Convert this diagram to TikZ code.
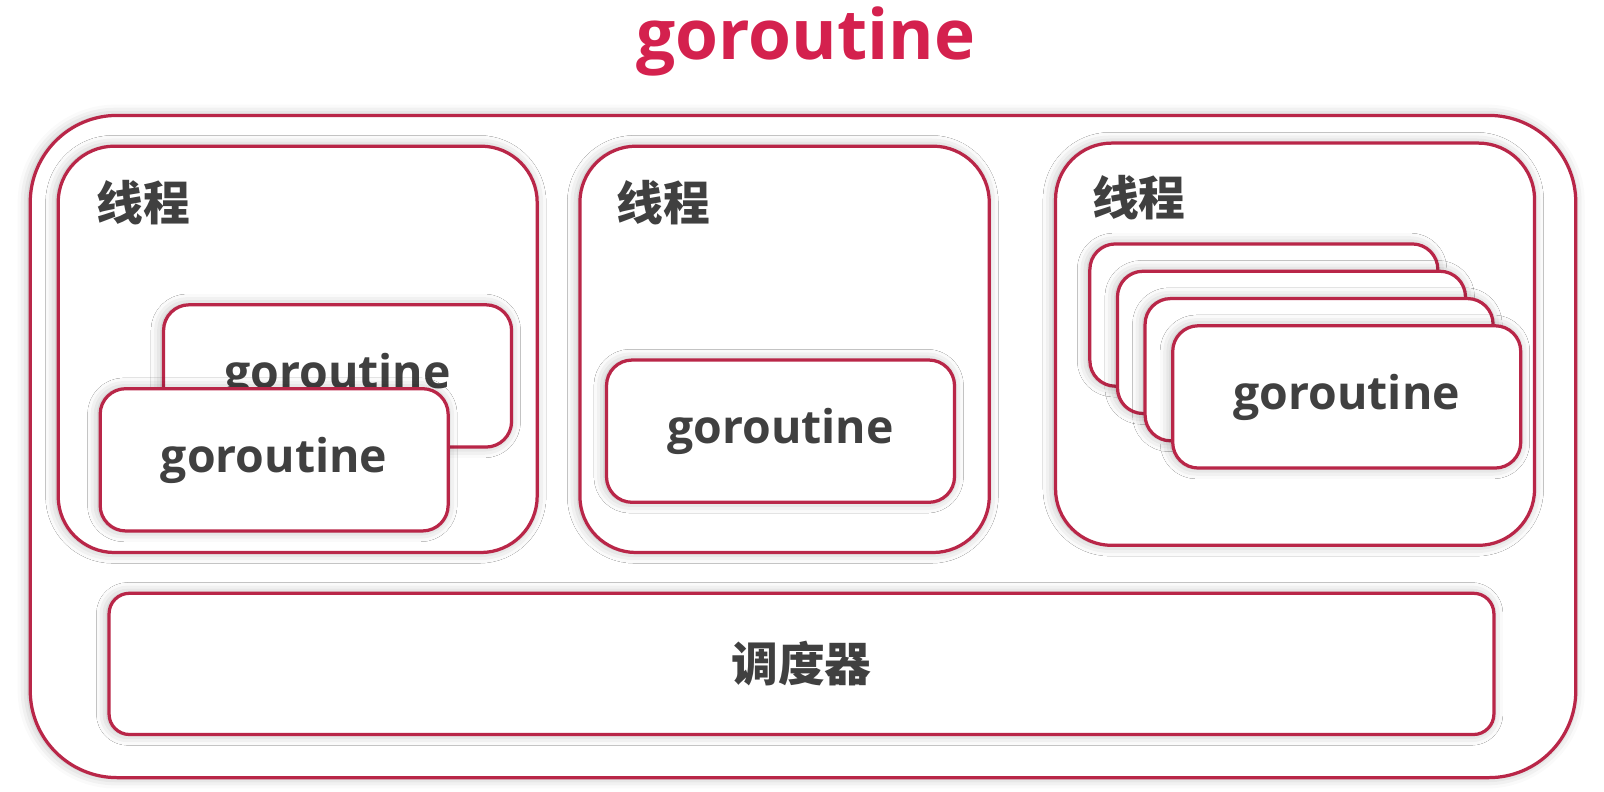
\documentclass[tikz,border=0pt]{standalone}
\usepackage{fontspec}
\setmainfont{Open Sans}
\newfontfamily\cjk{Noto Sans CJK SC}
\usetikzlibrary{shadows.blur}
\definecolor{gored}{RGB}{212,33,78}
\definecolor{boxred}{RGB}{185,38,72}
\definecolor{txtgray}{RGB}{64,64,64}

\begin{document}
\begin{tikzpicture}[x=0.01cm,y=-0.01cm,
    roundframe/.style={draw=boxred,line width=0.9pt,fill=white,
      blur shadow={shadow xshift=-0.5pt,shadow yshift=0pt,shadow blur radius=3pt,shadow opacity=30}},
    threadbox/.style={roundframe,rounded corners=0.55cm,minimum width=#1,minimum height=3.97cm},
    gobox/.style={roundframe,rounded corners=0.25cm,minimum width=3.4cm,minimum height=1.39cm,
      font=\fontsize{12.9}{16}\selectfont\bfseries,text=txtgray,text height=0.95em,text depth=0.25em},
    cjklabel/.style={font=\cjk\fontsize{13}{16}\selectfont\bfseries,text=txtgray,inner sep=0pt}]
        \useasboundingbox (0,0) rectangle (1568,774.2);
        \pgfmathsetmacro\dx{27}
        \pgfmathsetmacro\dy{26.7}
        \node (title) at (788,41) [font=\fontsize{19.3}{24}\selectfont\bfseries,text=gored] {goroutine};
        \node (sys) at (785,436.5) [roundframe,rounded corners=0.85cm,minimum width=15.1cm,minimum height=6.47cm] {};
        % threads
        \node (t1) at (291,341.5) [threadbox=4.68cm] {};
        \node (t2) at (767,341.5) [threadbox=4.0cm] {};
        \node (t3) at (1266,336.5) [threadbox=4.68cm,minimum height=3.93cm] {};
        \node (l1) at (94,198) [cjklabel,anchor=west] {线程};
        \node (l2) at (602,198) [cjklabel,anchor=west] {线程};
        \node (l3) at (1067,193) [cjklabel,anchor=west] {线程};
        % goroutines
        \node (g1b) at (330,367.5) [gobox] {goroutine};
        \node (g1a) at (268,449.5) [gobox] {goroutine};
        \node (g2) at (763,421.5) [gobox] {goroutine};
        \foreach \i in {0,1,2}
            \node (g3\i) at ({1235.5+\dx*\i},{308+\dy*\i}) [gobox] {};
        \node (g33) at (1316.5,388) [gobox] {goroutine};
        % scheduler
        \node (sched) at (783.5,649) [roundframe,cjklabel,rounded corners=0.2cm,minimum width=13.53cm,minimum height=1.38cm] {调度器};
    \end{tikzpicture}
\end{document}
